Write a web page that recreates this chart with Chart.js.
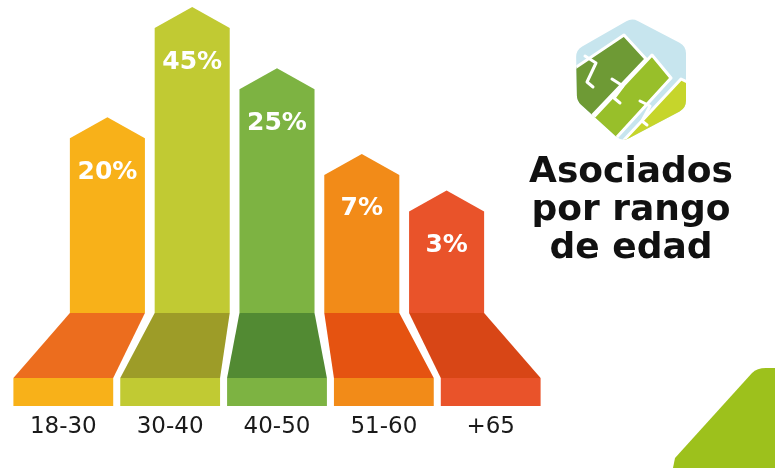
<!DOCTYPE html>
<html>
<head>
<meta charset="utf-8">
<script src="https://cdn.jsdelivr.net/npm/chart.js@4.4.1/dist/chart.umd.min.js"></script>
<style>
  html, body { margin: 0; padding: 0; background: #fff; }
  #wrap { width: 775px; height: 468px; position: relative; }
</style>
</head>
<body>
<div id="wrap"><canvas id="edadChart" width="775" height="468"></canvas></div>
<script>
// Data
const categorias = ['18-30', '30-40', '40-50', '51-60', '+65'];
const porcentajes = [20, 45, 25, 7, 3];
// bar height as drawn in the infographic (tallest = 100)
const alturaVisual = [64, 100, 80, 52, 40];
const tituloLineas = ['Asociados', 'por rango', 'de edad'];

const colorColumna = ['#F8B119', '#C1CA33', '#7DB342', '#F28B18', '#E9532A'];
const colorPerspectiva = ['#EC6D1E', '#9D9C28', '#528A33', '#E55311', '#D84616'];

const FONT = '"DejaVu Sans", sans-serif';

// Arrow-shaped columns, perspective floor, labels
const barrasFlecha = {
    id: 'barrasFlecha',
    afterDatasetsDraw(chart) {
        const ctx = chart.ctx;
        const area = chart.chartArea;
        const cx = (area.left + area.right) / 2;
        const meta = chart.getDatasetMeta(0);
        meta.data.forEach(function(bar, i) {
            const w = bar.width;
            const l = bar.x - w / 2, r = bar.x + w / 2;
            const tip = 21;
            const base = bar.base;

            // column with pointed top
            ctx.fillStyle = colorColumna[i];
            ctx.beginPath();
            ctx.moveTo(l, base);
            ctx.lineTo(l, bar.y + tip);
            ctx.lineTo(bar.x, bar.y);
            ctx.lineTo(r, bar.y + tip);
            ctx.lineTo(r, base);
            ctx.closePath();
            ctx.fill();

            // perspective floor piece
            const bw = w * 1.33;
            const bc = bar.x + (bar.x - cx) * 0.26;
            const trapH = 65, rectH = 28;
            ctx.fillStyle = colorPerspectiva[i];
            ctx.beginPath();
            ctx.moveTo(l, base);
            ctx.lineTo(r, base);
            ctx.lineTo(bc + bw / 2, base + trapH);
            ctx.lineTo(bc - bw / 2, base + trapH);
            ctx.closePath();
            ctx.fill();

            ctx.fillStyle = colorColumna[i];
            ctx.fillRect(bc - bw / 2, base + trapH, bw, rectH);

            // value label
            ctx.fillStyle = '#ffffff';
            ctx.font = 'bold 25px ' + FONT;
            ctx.textAlign = 'center';
            ctx.textBaseline = 'middle';
            ctx.fillText(porcentajes[i] + '%', bar.x, bar.y + 55);

            // category label
            ctx.fillStyle = '#1a1a1a';
            ctx.font = '23px ' + FONT;
            ctx.fillText(categorias[i], bc, base + trapH + rectH + 21);
        });
    }
};

function poly(ctx, pts) {
    ctx.beginPath();
    pts.forEach(function(p, k) {
        if (k === 0) ctx.moveTo(p[0], p[1]); else ctx.lineTo(p[0], p[1]);
    });
    ctx.closePath();
}

// Title, logo and green corner
const decoracion = {
    id: 'decoracion',
    afterDraw(chart) {
        const ctx = chart.ctx;
        ctx.save();

        // title
        ctx.fillStyle = '#111111';
        ctx.font = 'bold 36px ' + FONT;
        ctx.textAlign = 'center';
        ctx.textBaseline = 'alphabetic';
        tituloLineas.forEach(function(t, k) {
            ctx.fillText(t, 631, 182 + k * 38);
        });

        // green corner bottom right
        ctx.fillStyle = '#9DC11C';
        ctx.beginPath();
        ctx.moveTo(673, 468);
        ctx.lineTo(675, 458);
        ctx.lineTo(752, 373);
        ctx.quadraticCurveTo(757, 368, 766, 368);
        ctx.lineTo(775, 368);
        ctx.lineTo(775, 468);
        ctx.closePath();
        ctx.fill();

        // logo: rounded hexagon with mountains
        const vs = [[632, 18], [686, 46], [686, 108], [622, 142], [577, 101], [576, 50]];
        ctx.beginPath();
        const m0 = [(vs[5][0] + vs[0][0]) / 2, (vs[5][1] + vs[0][1]) / 2];
        ctx.moveTo(m0[0], m0[1]);
        for (let k = 0; k < 6; k++) {
            const a = vs[k], b = vs[(k + 1) % 6];
            ctx.arcTo(a[0], a[1], b[0], b[1], 12);
        }
        ctx.closePath();
        ctx.save();
        ctx.clip();
        ctx.fillStyle = '#C7E5EE';
        ctx.fillRect(560, 10, 140, 140);

        ctx.strokeStyle = '#ffffff';
        ctx.lineWidth = 3;
        ctx.lineJoin = 'round';
        ctx.lineCap = 'round';
        const bandas = [
            ['#6E9A35', [[560, 78], [624, 35], [646, 59], [587, 121], [560, 121]]],
            ['#98BF2A', [[590, 121], [652, 55], [671, 78], [617, 137], [610, 155], [575, 155]]],
            ['#C6D52B', [[624, 140], [681, 79], [705, 90], [705, 160], [615, 160]]]
        ];
        bandas.forEach(function(b) {
            ctx.fillStyle = b[0];
            poly(ctx, b[1]);
            ctx.fill();
            ctx.stroke();
        });
        // white S-shaped notches
        [[[585, 56], [596, 63], [587, 82], [593, 87]],
         [[612, 79], [623, 86], [614, 98], [620, 103]],
         [[640, 101], [650, 106], [642, 121], [647, 125]]].forEach(function(n) {
            ctx.beginPath();
            n.forEach(function(p, k) {
                if (k === 0) ctx.moveTo(p[0], p[1]); else ctx.lineTo(p[0], p[1]);
            });
            ctx.stroke();
        });
        ctx.restore();
        ctx.restore();
    }
};

new Chart(document.getElementById('edadChart'), {
    type: 'bar',
    data: {
        labels: categorias,
        datasets: [{
            data: alturaVisual,
            backgroundColor: 'rgba(0,0,0,0)',
            barPercentage: 0.885,
            categoryPercentage: 1
        }]
    },
    options: {
        responsive: false,
        animation: false,
        layout: { padding: { left: 65, right: 286, top: 7, bottom: 155 } },
        scales: {
            x: { display: false },
            y: { display: false, min: 0, max: 100 }
        },
        plugins: {
            legend: { display: false },
            tooltip: { enabled: false }
        }
    },
    plugins: [barrasFlecha, decoracion]
});
</script>
</body>
</html>
